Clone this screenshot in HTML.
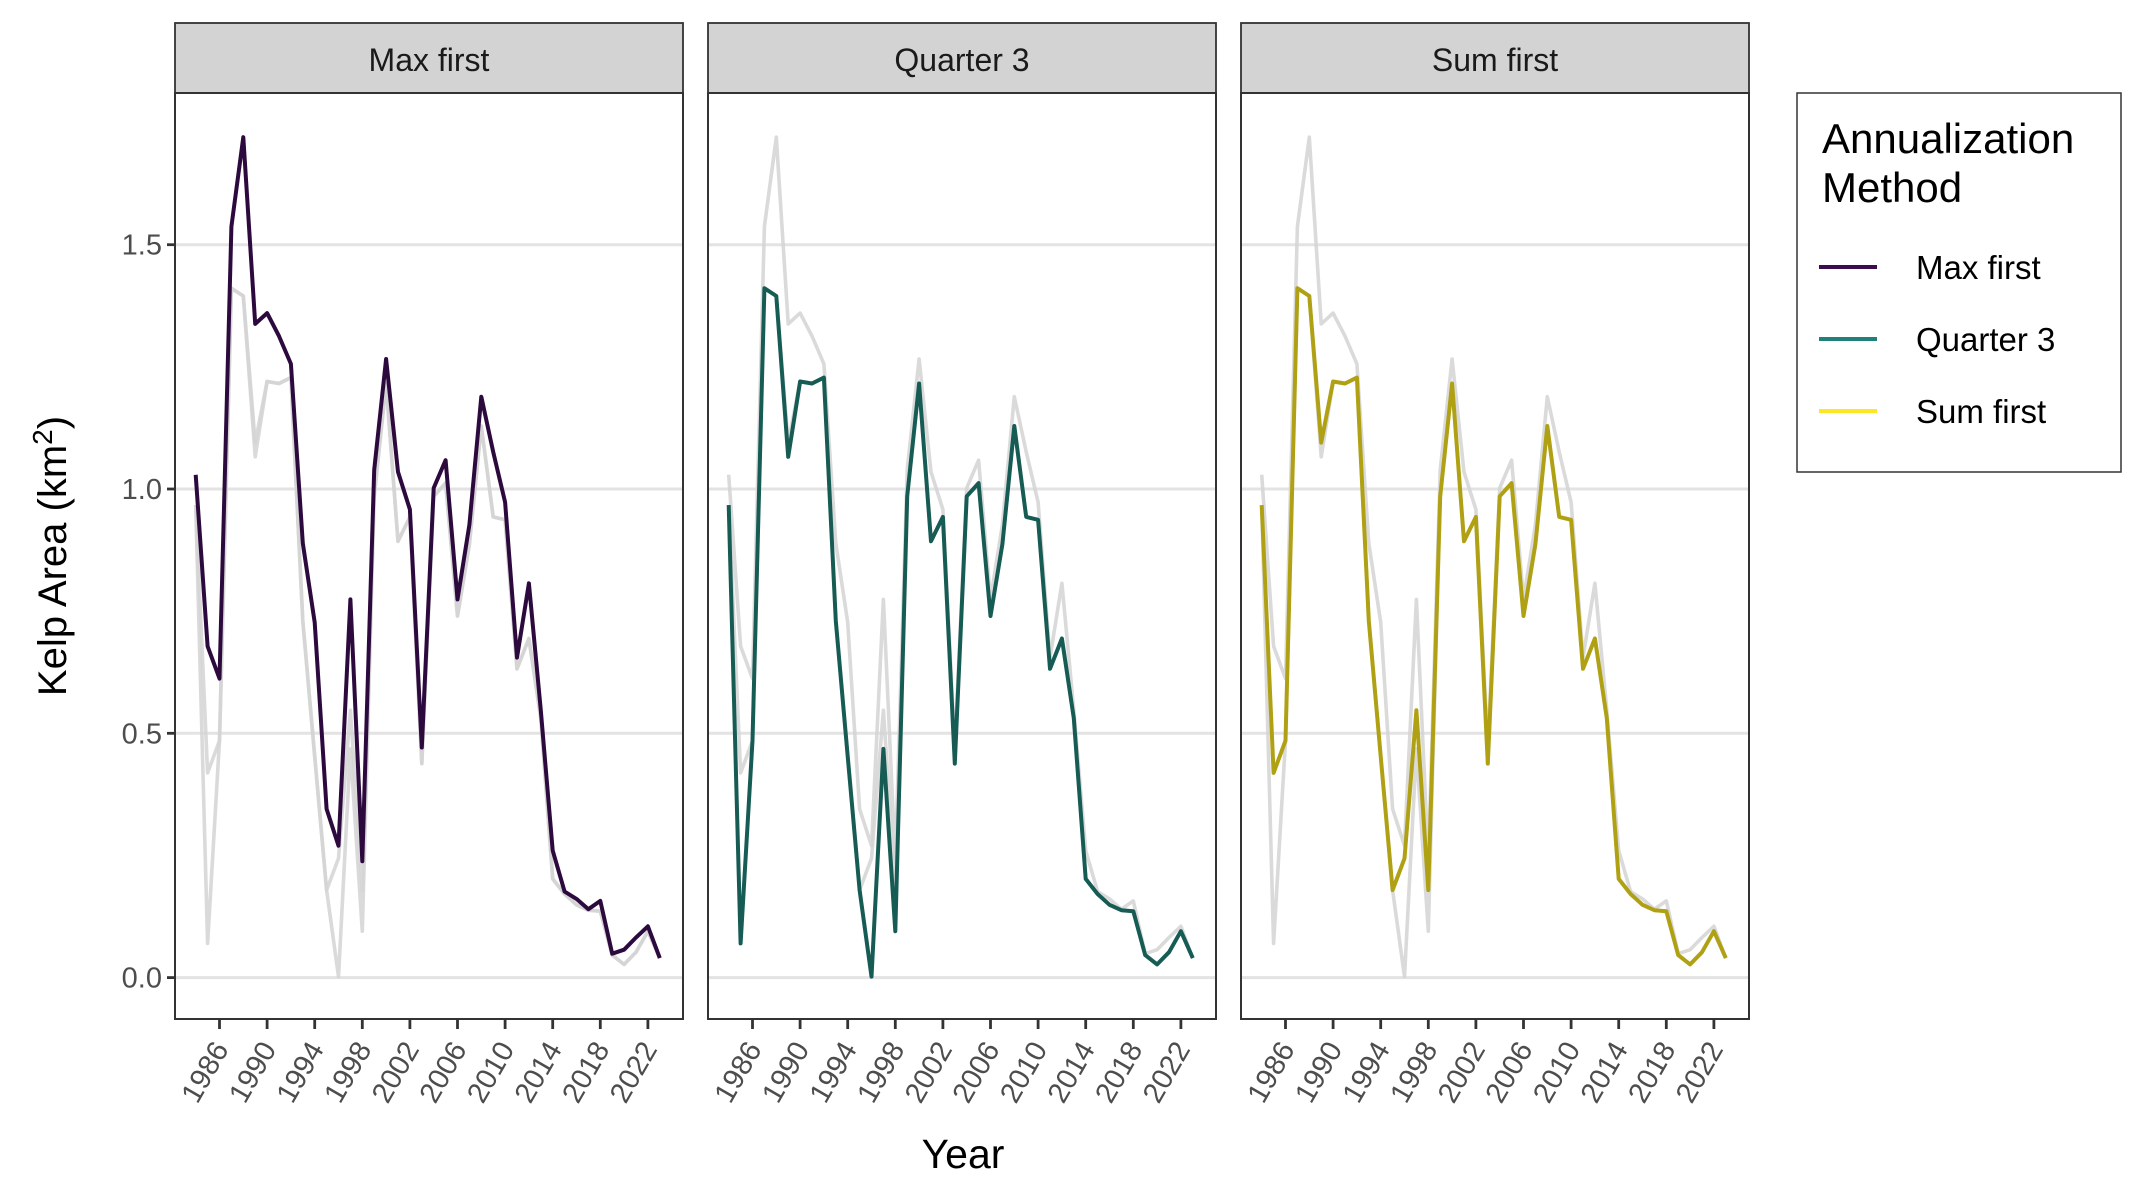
<!DOCTYPE html>
<html><head><meta charset="utf-8">
<style>
html,body{margin:0;padding:0;background:#fff;}
svg{display:block;font-family:"Liberation Sans",Arial,sans-serif;}
</style></head>
<body>
<svg id="chart" width="2133" height="1200" viewBox="0 0 2133 1200" xmlns="http://www.w3.org/2000/svg"></svg>
<script>
const years = [];
for (let y = 1984; y <= 2023; y++) years.push(y);
const maxFirst = [1.029,0.678,0.612,1.537,1.720,1.338,1.360,1.313,1.256,0.889,0.727,0.345,0.270,0.774,0.238,1.039,1.266,1.035,0.958,0.471,1.002,1.059,0.774,0.927,1.189,1.076,0.973,0.655,0.807,0.547,0.260,0.176,0.161,0.140,0.157,0.049,0.057,0.082,0.105,0.040];
const quarter3 = [0.967,0.070,0.485,1.411,1.395,1.066,1.220,1.216,1.228,0.730,0.453,0.179,0.002,0.468,0.095,0.985,1.216,0.893,0.943,0.438,0.985,1.012,0.740,0.887,1.129,0.943,0.937,0.632,0.694,0.531,0.202,0.171,0.149,0.138,0.136,0.046,0.027,0.052,0.095,0.040];
const sumFirst = [0.967,0.419,0.485,1.411,1.395,1.095,1.220,1.216,1.228,0.730,0.453,0.179,0.244,0.547,0.179,0.985,1.216,0.893,0.943,0.438,0.985,1.012,0.740,0.887,1.129,0.943,0.937,0.632,0.694,0.531,0.202,0.171,0.149,0.138,0.136,0.046,0.027,0.052,0.095,0.040];
const seriesNames = ["Max first","Quarter 3","Sum first"];
const xTicks = [1986,1990,1994,1998,2002,2006,2010,2014,2018,2022];
const yTicks = [0,0.5,1.0,1.5];
const yTickLabels = ["0.0","0.5","1.0","1.5"];

const seriesData = [maxFirst, quarter3, sumFirst];
const plotColors = ["#2d0a3e","#165c54","#b0a114"];
const legendColors = ["#3a0d4f","#21807a","#fde725"];
const NS = "http://www.w3.org/2000/svg";
const svg = document.getElementById("chart");
function mk(tag, attrs, parent){
  const e = document.createElementNS(NS, tag);
  for (const k in attrs) e.setAttribute(k, attrs[k]);
  (parent||svg).appendChild(e);
  return e;
}
const panelX = [175, 708, 1241];
const panelW = 508;
const plotTop = 93, plotBot = 1019;
function yScale(v){ return 977.6 - v*488.6; }
function xScale(yr, p){ return panelX[p] + 44.5 + (yr-1986)*11.9; }

seriesNames.forEach((name, p) => {
  const x0 = panelX[p];
  const g = mk("g", {});
  
  
  const strip = mk("rect", {x:x0, y:23, width:panelW, height:70, fill:"#d3d3d3", stroke:"#333", "stroke-width":1.8}, g);
  
  
  const st = mk("text", {x:x0+panelW/2, y:71, "text-anchor":"middle", "font-size":32, fill:"#1a1a1a"}, g);
  st.textContent = name;
  
  
  yTicks.forEach(v => {
    const gl = mk("line", {x1:x0, x2:x0+panelW, y1:yScale(v), y2:yScale(v), stroke:"#e3e3e3", "stroke-width":3}, g);
    
    
  });
  seriesData.forEach((d, s) => {
    if (s === p) return;
    const pts = d.map((v,i) => xScale(years[i],p).toFixed(1)+","+yScale(v).toFixed(1)).join(" ");
    const l = mk("polyline", {points:pts, fill:"none", stroke:"#d4d4d4", "stroke-width":3.6, "stroke-linejoin":"round", opacity:0.85}, g);
    
    
  });
  const pts = seriesData[p].map((v,i) => xScale(years[i],p).toFixed(1)+","+yScale(v).toFixed(1)).join(" ");
  const ln = mk("polyline", {points:pts, fill:"none", stroke:plotColors[p], "stroke-width":4, "stroke-linejoin":"round"}, g);
  
  
  const bd = mk("rect", {x:x0, y:plotTop, width:panelW, height:plotBot-plotTop, fill:"none", stroke:"#333", "stroke-width":2}, g);
  
  
  xTicks.forEach(t => {
    const x = xScale(t,p);
    const tk = mk("line", {x1:x, x2:x, y1:plotBot, y2:plotBot+10, stroke:"#333", "stroke-width":2.8}, g);
    
    
    const tl = mk("text", {x:x+10, y:plotBot+30, "text-anchor":"end", "font-size":29, fill:"#4d4d4d", transform:"rotate(-60 "+(x+10)+" "+(plotBot+30)+")"}, g);
    tl.textContent = t;
    
    
  });
  if (p === 0) {
    yTicks.forEach((v,i) => {
      const tk = mk("line", {x1:x0-8, x2:x0, y1:yScale(v), y2:yScale(v), stroke:"#333", "stroke-width":2.8}, g);
      
      
      const tl = mk("text", {x:x0-13, y:yScale(v)+10, "text-anchor":"end", "font-size":29, fill:"#4d4d4d"}, g);
      tl.textContent = yTickLabels[i];
      
      
    });
  }
});
const yt = mk("text", {x:0, y:0, "text-anchor":"middle", "font-size":40, fill:"#000", transform:"translate(66 556) rotate(-90)"});
yt.innerHTML = 'Kelp Area (km<tspan dy="-14" font-size="28">2</tspan><tspan dy="14">)</tspan>';


const xt = mk("text", {x:963, y:1168, "text-anchor":"middle", "font-size":41, fill:"#000"});
xt.textContent = "Year";


const lg = mk("g", {});


const lb = mk("rect", {x:1797, y:93, width:324, height:379, fill:"#fff", stroke:"#333", "stroke-width":1.5}, lg);


const lt1 = mk("text", {x:1822, y:153, "font-size":42, fill:"#000"}, lg);
lt1.textContent = "Annualization";


const lt2 = mk("text", {x:1822, y:202, "font-size":42, fill:"#000"}, lg);
lt2.textContent = "Method";


seriesNames.forEach((n,i) => {
  const y = 267 + i*72;
  const ll = mk("line", {x1:1819, x2:1877, y1:y, y2:y, stroke:legendColors[i], "stroke-width":4}, lg);
  
  
  const tx = mk("text", {x:1916, y:y+12, "font-size":33, fill:"#000"}, lg);
  tx.textContent = n;
  
  
});
</script>
</body></html>
